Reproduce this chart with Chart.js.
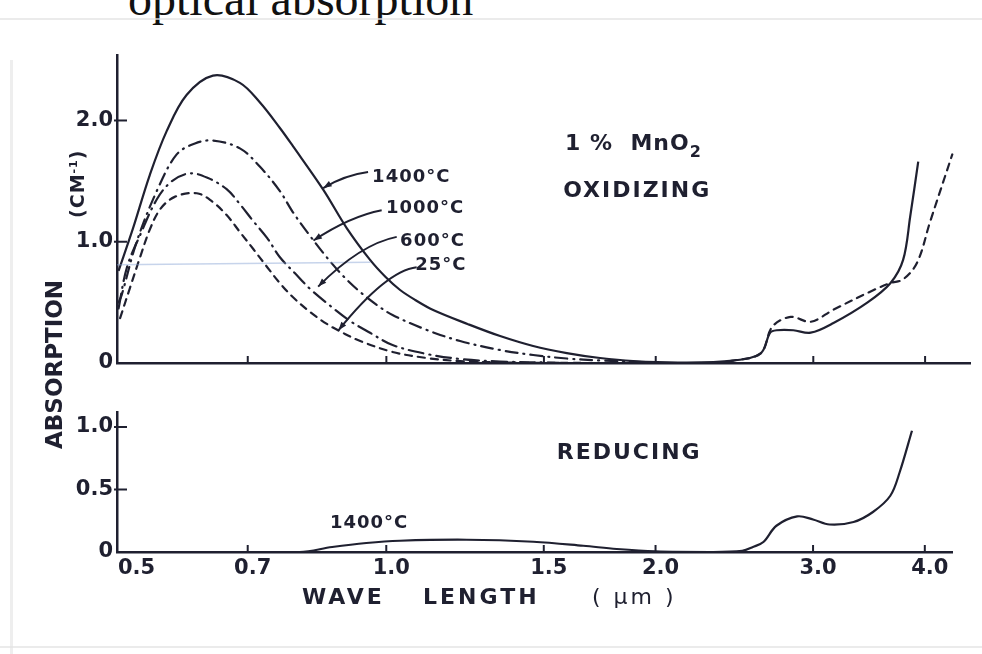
<!DOCTYPE html>
<html>
<head>
<meta charset="utf-8">
<script src="https://cdn.jsdelivr.net/npm/chart.js@4"></script>
<style>
html, body { margin: 0; padding: 0; background: #fff; }
#wrap { position: relative; width: 982px; height: 654px; overflow: hidden; background: #fff; font-family: 'DejaVu Sans', sans-serif; color: #1f2030; }
canvas { position: absolute; left: 0; }
#topChart { top: 0; }
#bottomChart { top: 380px; }
.lbl { position: absolute; white-space: nowrap; font-weight: bold; font-size: 22px; line-height: 22px; letter-spacing: 3px; }
.rot { transform-origin: 0 0; transform: rotate(-90deg); }
#heading { position: absolute; left: 128px; top: -25px; font-family: 'Liberation Serif', serif; font-size: 48px; line-height: 48px; color: #111; white-space: nowrap; }
.smudge { position: absolute; background: #e2e2e2; }
</style>
</head>
<body>
<div id="wrap">
  <div id="heading">optical absorption</div>
  <div class="smudge" style="left:0;top:18px;width:982px;height:2px;opacity:.7"></div>
  <div class="smudge" style="left:10px;top:60px;width:3px;height:594px;opacity:.6"></div>
  <div class="smudge" style="left:0;top:646px;width:982px;height:2px;opacity:.7"></div>
  <canvas id="topChart" width="982" height="380"></canvas>
  <canvas id="bottomChart" width="982" height="274"></canvas>
  <div class="lbl rot" style="left:42px;top:449px;font-size:23px;line-height:24px;letter-spacing:0;">ABSORPTION</div>
  <div class="lbl rot" style="left:63px;top:218px;font-size:19px;letter-spacing:1px;">(CM<sup style="font-size:11px">-1</sup>)</div>
  <div class="lbl" style="left:302px;top:586px;">WAVE</div>
  <div class="lbl" style="left:423px;top:586px;">LENGTH</div>
  <div class="lbl" style="left:592px;top:586px;font-weight:normal;">( μm )</div>
</div>
<script>
// wave length axis (log spaced in the original figure)
var xTicks = [0.5, 0.7, 1.0, 1.5, 2.0, 3.0, 4.0];
var xTickLabels = ['0.5', '0.7', '1.0', '1.5', '2.0', '3.0', '4.0'];
var yTopTicks = [0, 1, 2];
var yTopLabels = ['0', '1.0', '2.0'];
var yBottomTicks = [0, 0.5, 1];
var yBottomLabels = ['0', '0.5', '1.0'];

// oxidizing, 1400 C (solid)
var wl1400 = [0.502, 0.521, 0.544, 0.568, 0.598, 0.640, 0.686, 0.722, 0.760, 0.786, 0.850, 0.903, 0.959, 0.998, 1.036, 1.077, 1.128, 1.234, 1.340, 1.459, 1.591, 1.733, 1.887, 2.13, 2.44, 2.62, 2.685, 2.73, 2.85, 2.98, 3.16, 3.45, 3.66, 3.78, 3.85, 3.93];
var abs1400 = [0.76, 1.11, 1.55, 1.91, 2.21, 2.37, 2.31, 2.15, 1.94, 1.79, 1.43, 1.113, 0.85, 0.709, 0.602, 0.52, 0.437, 0.32, 0.222, 0.14, 0.082, 0.041, 0.016, 0.004, 0.02, 0.08, 0.25, 0.27, 0.27, 0.25, 0.33, 0.50, 0.66, 0.85, 1.21, 1.66];
// oxidizing, 1000 C (dash dot)
var wl1000 = [0.502, 0.506, 0.526, 0.554, 0.583, 0.611, 0.640, 0.686, 0.722, 0.760, 0.786, 0.822, 0.859, 0.895, 0.935, 0.976, 1.016, 1.110, 1.209, 1.340, 1.459, 1.591, 1.733, 1.97];
var abs1000 = [0.50, 0.56, 1.00, 1.42, 1.72, 1.81, 1.835, 1.77, 1.62, 1.42, 1.245, 1.047, 0.866, 0.717, 0.585, 0.478, 0.396, 0.272, 0.181, 0.107, 0.066, 0.037, 0.021, 0.006];
// oxidizing, 600 C (dash with dots)
var wl600 = [0.502, 0.513, 0.531, 0.554, 0.576, 0.603, 0.632, 0.663, 0.686, 0.710, 0.736, 0.760, 0.790, 0.822, 0.866, 0.911, 0.960, 1.016, 1.110, 1.209, 1.340, 1.56];
var abs600 = [0.45, 0.79, 1.06, 1.35, 1.50, 1.564, 1.525, 1.434, 1.31, 1.17, 1.03, 0.874, 0.742, 0.61, 0.47, 0.346, 0.247, 0.148, 0.074, 0.033, 0.012, 0.002];
// oxidizing, 25 C (dashed)
var wl25 = [0.504, 0.517, 0.531, 0.544, 0.559, 0.580, 0.614, 0.638, 0.663, 0.686, 0.710, 0.736, 0.760, 0.786, 0.822, 0.859, 0.895, 0.935, 1.016, 1.110, 1.209, 1.41, 1.80, 2.30, 2.44, 2.62, 2.70, 2.83, 2.98, 3.16, 3.50, 3.66, 3.78, 3.92, 4.05, 4.29];
var abs25 = [0.37, 0.62, 0.88, 1.10, 1.27, 1.37, 1.40, 1.335, 1.22, 1.08, 0.94, 0.79, 0.66, 0.544, 0.42, 0.32, 0.247, 0.181, 0.091, 0.041, 0.016, 0.002, 0.0, 0.0, 0.02, 0.08, 0.30, 0.38, 0.34, 0.44, 0.60, 0.66, 0.69, 0.83, 1.16, 1.72];
// faint scan mark across the upper panel
var wlMark = [0.5, 0.96];
var absMark = [0.81, 0.83];
// reducing, 1400 C
var wlRed = [0.5, 0.80, 0.87, 0.95, 1.036, 1.23, 1.46, 1.66, 1.81, 2.0, 2.3, 2.5, 2.57, 2.64, 2.73, 2.88, 3.0, 3.13, 3.33, 3.50, 3.66, 3.75, 3.87];
var absRed = [0, 0, 0.04, 0.072, 0.09, 0.098, 0.082, 0.05, 0.024, 0.005, 0, 0.01, 0.04, 0.08, 0.21, 0.285, 0.26, 0.22, 0.24, 0.32, 0.45, 0.64, 0.97];

var ink = '#1f2030';
var tickFont = { family: 'DejaVu Sans', size: 21, weight: 'bold' };

function pts(xs, ys) {
    return xs.map(function (v, i) { return { x: v, y: ys[i] }; });
}

function series(label, xs, ys, dash, color, width) {
    return {
        label: label,
        data: pts(xs, ys),
        borderColor: color || ink,
        borderWidth: width || 2.2,
        borderDash: dash,
        borderCapStyle: dash.length ? 'round' : 'butt',
        pointRadius: 0,
        fill: false,
        tension: 0.35
    };
}

// tick marks drawn inside the axes, labels and arrows placed in data units
var annotate = {
    id: 'annotate',
    afterDatasetsDraw: function (chart, args, opts) {
        var ctx = chart.ctx, xs = chart.scales.x, ys = chart.scales.y, area = chart.chartArea;
        var px = function (v) { return xs.getPixelForValue(v); };
        var py = function (v) { return ys.getPixelForValue(v); };
        ctx.save();
        ctx.strokeStyle = ink;
        ctx.fillStyle = ink;
        ctx.lineWidth = 2;
        xs.ticks.forEach(function (t) {
            if (t.value === xTicks[0]) return;
            ctx.beginPath();
            ctx.moveTo(px(t.value), area.bottom);
            ctx.lineTo(px(t.value), area.bottom - 7);
            ctx.stroke();
        });
        ys.ticks.forEach(function (t) {
            if (t.value === 0) return;
            ctx.beginPath();
            ctx.moveTo(area.left - 3, py(t.value));
            ctx.lineTo(area.left + 10, py(t.value));
            ctx.stroke();
        });
        (opts.texts || []).forEach(function (t) {
            ctx.font = t.font;
            ctx.letterSpacing = t.spacing || '0px';
            ctx.textBaseline = 'alphabetic';
            ctx.fillText(t.text, px(t.x), py(t.y));
            if (t.sub) {
                var w = ctx.measureText(t.text).width;
                ctx.font = t.subFont;
                ctx.fillText(t.sub, px(t.x) + w, py(t.y) + 7);
            }
        });
        ctx.letterSpacing = '0px';
        ctx.lineWidth = 2;
        (opts.arrows || []).forEach(function (a) {
            var p0 = [px(a[0][0]), py(a[0][1])];
            var p1 = [px(a[1][0]), py(a[1][1])];
            var p2 = [px(a[2][0]), py(a[2][1])];
            ctx.beginPath();
            ctx.moveTo(p0[0], p0[1]);
            ctx.quadraticCurveTo(p1[0], p1[1], p2[0], p2[1]);
            ctx.stroke();
            var ang = Math.atan2(p2[1] - p1[1], p2[0] - p1[0]);
            ctx.beginPath();
            ctx.moveTo(p2[0], p2[1]);
            ctx.lineTo(p2[0] - 9 * Math.cos(ang - 0.35), p2[1] - 9 * Math.sin(ang - 0.35));
            ctx.lineTo(p2[0] - 9 * Math.cos(ang + 0.35), p2[1] - 9 * Math.sin(ang + 0.35));
            ctx.closePath();
            ctx.fill();
        });
        ctx.restore();
    }
};

function xAxis(max, showLabels, height) {
    return {
        type: 'logarithmic',
        min: 0.5,
        max: max,
        afterBuildTicks: function (s) { s.ticks = xTicks.map(function (v) { return { value: v }; }); },
        ticks: {
            display: showLabels,
            autoSkip: false,
            maxRotation: 0,
            padding: 4,
            labelOffset: 5,
            color: ink,
            font: tickFont,
            // the first label sits clear of the y axis in the original
            callback: function (v, i) { return (i === 0 ? '\u2007\u2007' : '') + xTickLabels[i]; }
        },
        grid: { display: false, drawTicks: false },
        border: { display: true, color: ink, width: 2.5 },
        afterFit: function (s) { s.height = height; }
    };
}

function yAxis(max, ticks, labels) {
    return {
        min: 0,
        max: max,
        afterBuildTicks: function (s) { s.ticks = ticks.map(function (v) { return { value: v }; }); },
        ticks: {
            padding: 4,
            color: ink,
            font: tickFont,
            callback: function (v, i) { return labels[i]; }
        },
        grid: { display: false, drawTicks: false },
        border: { display: true, color: ink, width: 2.5 },
        afterFit: function (s) { s.width = 117; }
    };
}

var smallFont = 'bold 18px "DejaVu Sans"';
var bigFont = 'bold 22px "DejaVu Sans"';

new Chart(document.getElementById('topChart'), {
    type: 'line',
    data: {
        datasets: [
            series('scan mark', wlMark, absMark, [], 'rgba(130,160,210,0.45)', 1.5),
            series('1400°C', wl1400, abs1400, []),
            series('1000°C', wl1000, abs1000, [12, 6, 1, 6]),
            series('600°C', wl600, abs600, [15, 6, 1, 6]),
            series('25°C', wl25, abs25, [7, 6])
        ]
    },
    options: {
        responsive: false,
        animation: false,
        layout: { padding: { top: 55, right: 12, left: 0, bottom: 0 } },
        plugins: {
            legend: { display: false },
            tooltip: { enabled: false },
            annotate: {
                texts: [
                    { text: '1400°C', x: 0.964, y: 1.49, font: smallFont, spacing: '1px' },
                    { text: '1000°C', x: 0.999, y: 1.24, font: smallFont, spacing: '1px' },
                    { text: '600°C', x: 1.036, y: 0.965, font: smallFont, spacing: '1px' },
                    { text: '25°C', x: 1.077, y: 0.77, font: smallFont, spacing: '1px' },
                    { text: '1 %  MnO', sub: '2', x: 1.584, y: 1.76, font: bigFont, subFont: 'bold 16px "DejaVu Sans"', spacing: '1px' },
                    { text: 'OXIDIZING', x: 1.576, y: 1.37, font: bigFont, spacing: '2px' }
                ],
                arrows: [
                    [[0.954, 1.575], [0.899, 1.55], [0.850, 1.443]],
                    [[0.988, 1.26], [0.911, 1.21], [0.829, 1.01]],
                    [[1.027, 1.04], [0.935, 0.98], [0.839, 0.63]],
                    [[1.081, 0.79], [1.0, 0.76], [0.884, 0.27]]
                ]
            }
        },
        scales: {
            x: xAxis(4.49, false, 17),
            y: yAxis(2.54, yTopTicks, yTopLabels)
        }
    },
    plugins: [annotate]
});

new Chart(document.getElementById('bottomChart'), {
    type: 'line',
    data: {
        datasets: [
            series('1400°C reducing', wlRed, absRed, [])
        ]
    },
    options: {
        responsive: false,
        animation: false,
        layout: { padding: { top: 32, right: 30, left: 0, bottom: 0 } },
        plugins: {
            legend: { display: false },
            tooltip: { enabled: false },
            annotate: {
                texts: [
                    { text: 'REDUCING', x: 1.551, y: 0.744, font: bigFont, spacing: '2px' },
                    { text: '1400°C', x: 0.865, y: 0.19, font: smallFont, spacing: '1px' }
                ]
            }
        },
        scales: {
            x: xAxis(4.29, true, 102),
            y: yAxis(1.12, yBottomTicks, yBottomLabels)
        }
    },
    plugins: [annotate]
});
</script>
</body>
</html>
